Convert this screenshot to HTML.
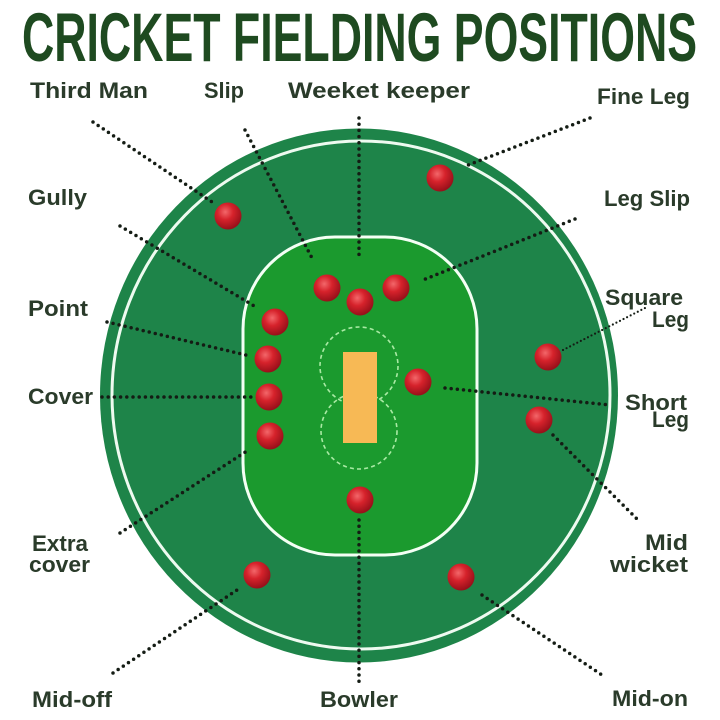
<!DOCTYPE html>
<html>
<head>
<meta charset="utf-8">
<style>
  html, body { margin: 0; padding: 0; background: #ffffff; }
  body { width: 720px; height: 720px; overflow: hidden; }
  svg { display: block; }
  .lbl { font-family: "Liberation Sans", sans-serif; font-weight: bold; font-size: 22px; fill: #2a3b2a; }
  .title { font-family: "Liberation Sans Narrow", "Liberation Sans", sans-serif; font-weight: bold; font-size: 69px; fill: #1e4a20; }
  .dl { stroke: #141c14; stroke-width: 3.5; stroke-linecap: round; stroke-dasharray: 0 6.2; fill: none; }
</style>
</head>
<body>
<svg width="720" height="720" viewBox="0 0 720 720" xmlns="http://www.w3.org/2000/svg">
  <defs>
    <radialGradient id="ball" cx="40%" cy="35%" r="65%">
      <stop offset="0%" stop-color="#f3676a"/>
      <stop offset="45%" stop-color="#d6222b"/>
      <stop offset="100%" stop-color="#98101a"/>
    </radialGradient>
  </defs>

  <!-- Title -->
  <text class="title" x="22" y="61" textLength="675" lengthAdjust="spacingAndGlyphs">CRICKET FIELDING POSITIONS</text>

  <!-- Outer field -->
  <ellipse cx="359" cy="395.5" rx="259" ry="267" fill="#1e8449"/>
  <ellipse cx="361" cy="395" rx="249" ry="254" fill="none" stroke="#eefaf0" stroke-width="3"/>

  <!-- Infield -->
  <rect x="243" y="237" width="234" height="318" rx="92" ry="92" fill="#1b9a2e" stroke="#f4fff4" stroke-width="3"/>

  <!-- Creases dashed circles -->
  <circle cx="359" cy="366" r="39" fill="none" stroke="#a9eaa4" stroke-width="1.6" stroke-dasharray="4 3.2"/>
  <circle cx="359" cy="431" r="38" fill="none" stroke="#a9eaa4" stroke-width="1.6" stroke-dasharray="4 3.2"/>

  <!-- Pitch -->
  <rect x="343" y="352" width="34" height="91" fill="#f7b955"/>

  <!-- Dotted connector lines -->
  <line class="dl" x1="93" y1="122" x2="212" y2="202"/>
  <line class="dl" x1="245" y1="130" x2="312" y2="258"/>
  <line class="dl" x1="359" y1="118" x2="359" y2="258"/>
  <line class="dl" x1="590" y1="118" x2="463" y2="167"/>
  <line class="dl" x1="575" y1="219" x2="423" y2="280"/>
  <line class="dl" x1="120" y1="226" x2="256" y2="307"/>
  <line class="dl" x1="107" y1="322" x2="250" y2="356"/>
  <line class="dl" x1="102" y1="397" x2="253" y2="397"/>
  <line class="dl" x1="120" y1="533" x2="250" y2="449"/>
  <line class="dl" x1="113" y1="673" x2="237" y2="590"/>
  <line class="dl" x1="359" y1="520" x2="359" y2="684"/>
  <line class="dl" x1="482" y1="595" x2="605" y2="677"/>
  <line class="dl" x1="553" y1="435" x2="640" y2="522"/>
  <line class="dl" x1="445" y1="388" x2="610" y2="405"/>
  <line x1="563" y1="350" x2="647" y2="307" stroke="#141c14" stroke-width="2.2" stroke-linecap="round" stroke-dasharray="0 4" fill="none"/>

  <!-- Balls -->
  <g fill="url(#ball)">
    <circle cx="228" cy="216" r="13.5"/>
    <circle cx="440" cy="178" r="13.5"/>
    <circle cx="327" cy="288" r="13.5"/>
    <circle cx="360" cy="302" r="13.5"/>
    <circle cx="396" cy="288" r="13.5"/>
    <circle cx="275" cy="322" r="13.5"/>
    <circle cx="268" cy="359" r="13.5"/>
    <circle cx="269" cy="397" r="13.5"/>
    <circle cx="270" cy="436" r="13.5"/>
    <circle cx="418" cy="382" r="13.5"/>
    <circle cx="548" cy="357" r="13.5"/>
    <circle cx="539" cy="420" r="13.5"/>
    <circle cx="360" cy="500" r="13.5"/>
    <circle cx="257" cy="575" r="13.5"/>
    <circle cx="461" cy="577" r="13.5"/>
  </g>

  <!-- Labels -->
  <text class="lbl" x="30" y="98" textLength="118" lengthAdjust="spacingAndGlyphs">Third Man</text>
  <text class="lbl" x="204" y="98" textLength="40" lengthAdjust="spacingAndGlyphs">Slip</text>
  <text class="lbl" x="288" y="98" textLength="182" lengthAdjust="spacingAndGlyphs">Weeket keeper</text>
  <text class="lbl" x="597" y="104" textLength="93" lengthAdjust="spacingAndGlyphs">Fine Leg</text>
  <text class="lbl" x="28" y="205" textLength="59" lengthAdjust="spacingAndGlyphs">Gully</text>
  <text class="lbl" x="604" y="206" textLength="86" lengthAdjust="spacingAndGlyphs">Leg Slip</text>
  <text class="lbl" x="28" y="316" textLength="60" lengthAdjust="spacingAndGlyphs">Point</text>
  <text class="lbl" x="605" y="305" textLength="78" lengthAdjust="spacingAndGlyphs">Square</text>
  <text class="lbl" x="652" y="327" textLength="37" lengthAdjust="spacingAndGlyphs">Leg</text>
  <text class="lbl" x="28" y="404" textLength="65" lengthAdjust="spacingAndGlyphs">Cover</text>
  <text class="lbl" x="625" y="410" textLength="62" lengthAdjust="spacingAndGlyphs">Short</text>
  <text class="lbl" x="652" y="427" textLength="37" lengthAdjust="spacingAndGlyphs">Leg</text>
  <text class="lbl" x="32" y="551" textLength="56" lengthAdjust="spacingAndGlyphs">Extra</text>
  <text class="lbl" x="29" y="572" textLength="61" lengthAdjust="spacingAndGlyphs">cover</text>
  <text class="lbl" x="645" y="550" textLength="43" lengthAdjust="spacingAndGlyphs">Mid</text>
  <text class="lbl" x="610" y="572" textLength="78" lengthAdjust="spacingAndGlyphs">wicket</text>
  <text class="lbl" x="32" y="707" textLength="80" lengthAdjust="spacingAndGlyphs">Mid-off</text>
  <text class="lbl" x="320" y="707" textLength="78" lengthAdjust="spacingAndGlyphs">Bowler</text>
  <text class="lbl" x="612" y="706" textLength="76" lengthAdjust="spacingAndGlyphs">Mid-on</text>
</svg>
</body>
</html>
